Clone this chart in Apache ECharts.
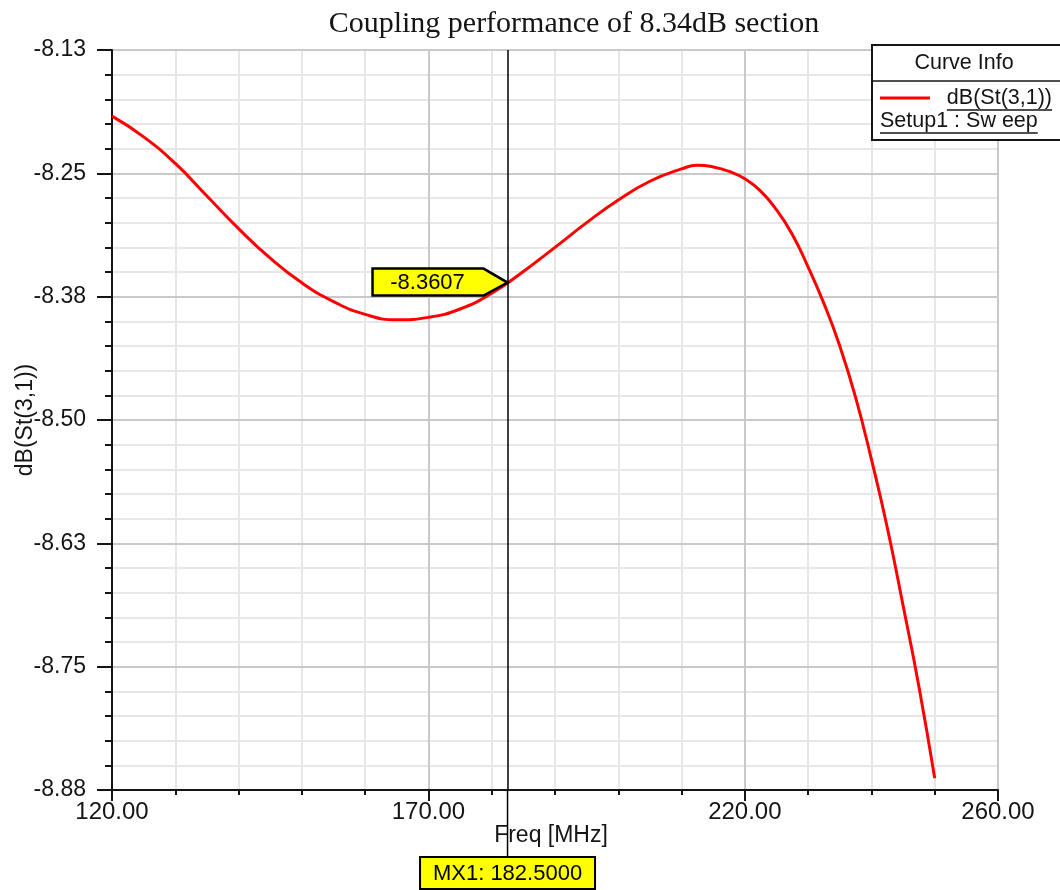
<!DOCTYPE html>
<html>
<head>
<meta charset="utf-8">
<script src="https://cdn.jsdelivr.net/npm/echarts@6/dist/echarts.min.js"></script>
<style>
  html, body { margin: 0; padding: 0; background: #ffffff; }
  #chart { width: 1060px; height: 890px; }
</style>
</head>
<body>
<div id="chart"></div>
<script>
// Swept coupling of the 8.34 dB section
const freqMHz = [120, 125, 130, 135, 140, 145, 150, 155, 160, 165, 170, 175, 180,
                 185, 190, 195, 200, 205, 210, 212.5, 215, 217.5, 220, 222.5, 225, 227.5,
                 230, 232.5, 235, 237.5, 240, 242.5, 245, 247.5, 250];
const s31dB = [-8.192, -8.213, -8.240, -8.273, -8.306, -8.336, -8.361, -8.380, -8.393, -8.3985,
               -8.396, -8.3875, -8.3715, -8.3495, -8.325, -8.300, -8.277, -8.258, -8.2455,
               -8.2418, -8.2435, -8.248, -8.2555, -8.268, -8.287, -8.312, -8.345, -8.382, -8.425,
               -8.477, -8.540, -8.609, -8.688, -8.770, -8.863];

const xTickLabels = ['120.00', '170.00', '220.00', '260.00'];
const yTickLabels = ['-8.88', '-8.75', '-8.63', '-8.50', '-8.38', '-8.25', '-8.13'];

const titleText = 'Coupling performance of 8.34dB section';
const xName = 'Freq [MHz]';
const yName = 'dB(St(3,1))';
const curveName = 'dB(St(3,1))';
const sweepName = 'Setup1 : Sw eep';
const legendTitle = 'Curve Info';
const markerName = 'MX1';
const markerFreq = 182.5;
const markerDb = -8.3607;

const X_MIN = 120, X_MAX = 260, X_MAJOR = 50, X_MINOR = 10;
const Y_MIN = -8.875, Y_MAX = -8.125, Y_MAJOR = 0.125;

const SANS = '"Liberation Sans", Arial, sans-serif';
const SERIF = '"Liberation Serif", "Times New Roman", serif';
const INK = '#151515';
const MAJOR_GRID = '#c9c9c9';
const MINOR_GRID = '#e7e7e7';

const chart = echarts.init(document.getElementById('chart'), null, { renderer: 'canvas' });

const measureCtx = document.createElement('canvas').getContext('2d');
function textWidth(text, font) {
  measureCtx.font = font;
  return measureCtx.measureText(text).width;
}

const option = {
  animation: false,
  backgroundColor: '#ffffff',
  title: {
    text: titleText,
    left: 569,
    top: 4,
    textAlign: 'center',
    textStyle: { fontFamily: SERIF, fontSize: 30, fontWeight: 'normal', color: INK }
  },
  grid: {
    left: 112, right: 62, top: 50, bottom: 100,
    outerBoundsMode: 'none',
    containLabel: false,
    show: true, borderColor: INK, borderWidth: 2, backgroundColor: 'transparent'
  },
  xAxis: [
    {
      type: 'value', min: X_MIN, max: X_MAX, interval: X_MAJOR, position: 'bottom', z: 1,
      name: xName, nameLocation: 'middle', nameGap: 34, nameMoveOverlap: false,
      nameTextStyle: { fontFamily: SANS, fontSize: 23, color: INK, padding: [0, 8, 0, 0] },
      axisLine: { show: true, lineStyle: { color: INK, width: 2 } },
      axisTick: { show: true, length: 11, lineStyle: { color: INK, width: 2 } },
      axisLabel: {
        margin: 10, fontFamily: SANS, fontSize: 24, color: INK,
        formatter: (v, i) => xTickLabels[i]
      },
      splitLine: { show: true, lineStyle: { color: MAJOR_GRID, width: 2 } }
    },
    {
      // every 10 MHz: minor ticks and light grid lines
      type: 'value', min: X_MIN, max: X_MAX, interval: X_MINOR, position: 'bottom', z: 0,
      axisLine: { show: false },
      axisTick: { show: true, length: 5, lineStyle: { color: INK, width: 2 } },
      axisLabel: { show: false },
      splitLine: {
        show: true,
        lineStyle: { color: ['rgba(0,0,0,0)', MINOR_GRID, MINOR_GRID, MINOR_GRID, MINOR_GRID], width: 2 }
      }
    }
  ],
  yAxis: {
    type: 'value', min: Y_MIN, max: Y_MAX, interval: Y_MAJOR, z: 1,
    name: yName, nameLocation: 'middle', nameGap: 75, nameRotate: 90, nameMoveOverlap: false,
    nameTextStyle: { fontFamily: SANS, fontSize: 23, color: INK },
    axisLine: { show: true, lineStyle: { color: INK, width: 2 } },
    axisTick: { show: true, length: 15, lineStyle: { color: INK, width: 2 } },
    minorTick: { show: true, splitNumber: 5, length: 7, lineStyle: { color: INK, width: 2 } },
    axisLabel: {
      margin: 26, fontFamily: SANS, fontSize: 23, color: INK,
      formatter: (v, i) => yTickLabels[i]
    },
    splitLine: { show: true, lineStyle: { color: MAJOR_GRID, width: 2 } },
    minorSplitLine: { show: true, lineStyle: { color: MINOR_GRID, width: 2 } }
  },
  series: [
    {
      name: curveName,
      type: 'line',
      xAxisIndex: 0,
      yAxisIndex: 0,
      data: freqMHz.map((f, i) => [f, s31dB[i]]),
      smooth: 0.5,
      showSymbol: false,
      lineStyle: { color: '#ff0000', width: 3 },
      z: 3,
      markLine: {
        silent: true,
        symbol: 'none',
        lineStyle: { color: '#000000', width: 1.5, type: 'solid' },
        label: { show: false },
        data: [{ xAxis: markerFreq }],
        z: 4
      }
    }
  ]
};

chart.setOption(option);

// Pieces placed from converted data positions: marker stem, readout boxes; plus the curve-info panel
const [mx, my] = chart.convertToPixel({ xAxisIndex: 0, yAxisIndex: 0 }, [markerFreq, markerDb]);
const plotBottom = chart.convertToPixel({ yAxisIndex: 0 }, Y_MIN);
const boxTop = 857, boxH = 32, boxW = 175;
const legendFont = '21.5px ' + SANS;
const curveW = textWidth(curveName, legendFont);
const sweepW = textWidth(sweepName, legendFont);
const curveRight = 1052;

chart.setOption({
  graphic: [
    { type: 'line', z: 50, silent: true,
      shape: { x1: mx, y1: plotBottom, x2: mx, y2: boxTop },
      style: { stroke: '#000000', lineWidth: 1.5 } },
    { type: 'rect', z: 51, silent: true,
      shape: { x: mx - boxW / 2, y: boxTop, width: boxW, height: boxH },
      style: { fill: '#ffff00', stroke: '#000000', lineWidth: 2 } },
    { type: 'text', z: 52, silent: true,
      style: { text: markerName + ': ' + markerFreq.toFixed(4), x: mx, y: boxTop + boxH / 2 + 1,
               textAlign: 'center', textVerticalAlign: 'middle',
               font: '22px ' + SANS, fill: '#000000' } },

    // value callout pointing at the marker
    { type: 'polygon', z: 53, silent: true,
      shape: { points: [[mx - 135, my - 14], [mx - 24, my - 14], [mx, my], [mx - 24, my + 13], [mx - 135, my + 13]] },
      style: { fill: '#ffff00', stroke: '#000000', lineWidth: 2.5, lineJoin: 'miter' } },
    { type: 'text', z: 54, silent: true,
      style: { text: markerDb.toFixed(4), x: mx - 80, y: my, textAlign: 'center', textVerticalAlign: 'middle',
               font: '22px ' + SANS, fill: '#000000' } },

    { type: 'rect', z: 60, silent: true,
      shape: { x: 872, y: 45, width: 220, height: 95 },
      style: { fill: '#ffffff', stroke: INK, lineWidth: 2 } },
    { type: 'line', z: 61, silent: true,
      shape: { x1: 872, y1: 81, x2: 1060, y2: 81 },
      style: { stroke: INK, lineWidth: 1.5 } },
    { type: 'text', z: 61, silent: true,
      style: { text: legendTitle, x: 964, y: 63, textAlign: 'center', textVerticalAlign: 'middle',
               font: legendFont, fill: INK } },
    { type: 'line', z: 61, silent: true,
      shape: { x1: 880, y1: 98, x2: 930, y2: 98 },
      style: { stroke: '#ff0000', lineWidth: 3 } },
    { type: 'text', z: 61, silent: true,
      style: { text: curveName, x: curveRight, y: 98, textAlign: 'right', textVerticalAlign: 'middle',
               font: legendFont, fill: INK } },
    { type: 'line', z: 61, silent: true,
      shape: { x1: curveRight - curveW, y1: 110, x2: curveRight, y2: 110 },
      style: { stroke: INK, lineWidth: 1.5 } },
    { type: 'text', z: 61, silent: true,
      style: { text: sweepName, x: 880, y: 121, textAlign: 'left', textVerticalAlign: 'middle',
               font: legendFont, fill: INK } },
    { type: 'line', z: 61, silent: true,
      shape: { x1: 880, y1: 133, x2: 880 + sweepW, y2: 133 },
      style: { stroke: INK, lineWidth: 1.5 } }
  ]
});
</script>
</body>
</html>
